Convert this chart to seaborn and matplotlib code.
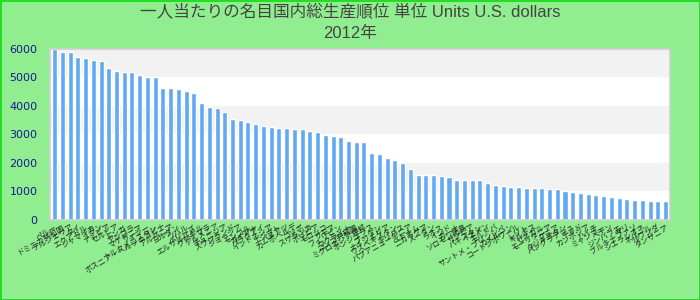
import matplotlib
matplotlib.use("Agg")
import matplotlib.pyplot as plt
import seaborn as sns
import pandas as pd

countries = [
    "ペルー", "ドミニカ共和国", "アルジェリア", "タイ", "エクアドル", "ジャマイカ", "イラン", "ナミビア",
    "セルビア", "トンガ", "アンゴラ", "マケドニア", "フィジー", "トルクメニスタン", "ボスニア・ヘルツェゴビナ", "アルバニア",
    "ヨルダン", "ツバル", "ベリーズ", "エルサルバドル", "グアテマラ", "アルメニア", "チュニジア", "スワジランド",
    "ジョージア", "モンゴル", "ガイアナ", "パラグアイ", "インドネシア", "エジプト", "バヌアツ", "カーボベルデ",
    "コソボ", "スリランカ", "ボリビア", "モロッコ", "サモア", "フィリピン", "ウクライナ", "コンゴ共和国",
    "ミクロネシア連邦", "ホンジュラス", "ブータン", "ナイジェリア", "ウズベキスタン", "キリバス", "パプアニューギニア", "ベトナム",
    "ニカラグア", "スーダン", "ラオス", "インド", "ガーナ", "ソロモン諸島", "ザンビア", "パキスタン",
    "イエメン", "モルドバ", "サントメ・プリンシペ", "カメルーン", "コートジボワール", "レソト", "キルギス", "セネガル",
    "モーリタニア", "ケニア", "タジキスタン", "バングラデシュ", "チャド", "カンボジア", "ハイチ", "ミャンマー",
    "ベナン", "ジンバブエ", "マリ", "ブルキナファソ", "シエラレオネ", "ネパール", "ルワンダ", "タンザニア",
]
values = [
    5990, 5890, 5890, 5720, 5684, 5614, 5579, 5333, 5228, 5193, 5193, 5088, 5018, 5018, 4632, 4632,
    4596, 4526, 4456, 4105, 3965, 3930, 3789, 3544, 3509, 3439, 3368, 3298, 3263, 3228, 3228, 3193,
    3193, 3123, 3088, 2982, 2947, 2912, 2772, 2737, 2737, 2351, 2316, 2175, 2105, 2000, 1789, 1579,
    1579, 1579, 1544, 1509, 1404, 1404, 1404, 1404, 1298, 1228, 1193, 1158, 1158, 1123, 1123, 1123,
    1088, 1088, 1018, 982, 947, 912, 877, 842, 807, 772, 737, 702, 702, 667, 667, 667,
]
yticks = [0, 1000, 2000, 3000, 4000, 5000, 6000]
title_text = "一人当たりの名目国内総生産順位 単位 Units U.S. dollars\n2012年"

df = pd.DataFrame({"country": countries, "value": values})

sns.set_theme(style="white")
plt.rcParams["font.family"] = ["Noto Sans CJK JP", "DejaVu Sans"]

fig = plt.figure(figsize=(7, 3), dpi=100)
fig.patch.set_facecolor("#90ee90")
fig.patch.set_edgecolor("#22dd22")
fig.patch.set_linewidth(2)
ax = fig.add_axes([0.0714, 0.2667, 0.886, 0.57])
ax.set_facecolor("white")

for i, lo in enumerate(yticks[:-1]):
    if i % 2 == 1:
        ax.axhspan(lo, lo + 1000, color="#f2f2f2", zorder=0, lw=0)

sns.barplot(data=df, x="country", y="value", color="#63a9f1", saturation=1,
            width=0.65, ax=ax, zorder=2)

ax.set_ylim(0, 6000)
ax.set_xlim(-0.6, len(countries) - 0.4)
ax.set_yticks(yticks)
ax.set_yticklabels([str(v) for v in yticks], color="#1a1a8c", fontsize=8,
                   family=["DejaVu Sans"])
ax.tick_params(axis="y", length=0, pad=9)
ax.tick_params(axis="x", length=0, pad=2)
ax.set_xticks(range(len(countries)))
ax.set_xticklabels(countries, rotation=30, ha="right", rotation_mode="anchor",
                   fontsize=5.5, color="#222222")
ax.set_xlabel("")
ax.set_ylabel("")
for s in ax.spines.values():
    s.set_color("#d0d0d0")
    s.set_linewidth(1.2)

fig.suptitle(title_text, x=0.5, y=0.985, fontsize=12, color="#444444",
             linespacing=1.45, family=["Liberation Sans", "Noto Sans CJK JP"])

fig.savefig("out.png", dpi=100, facecolor=fig.get_facecolor(),
            edgecolor=fig.get_edgecolor())
